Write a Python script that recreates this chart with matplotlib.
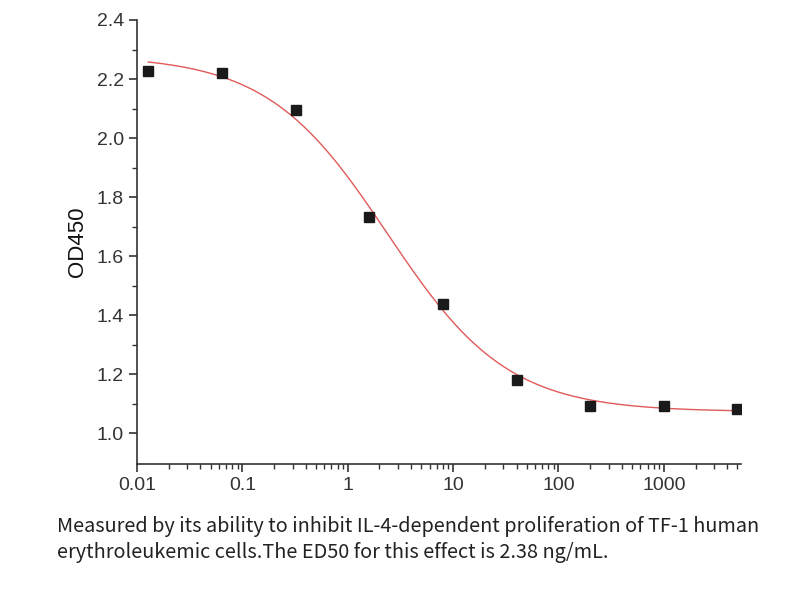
import numpy as np
import matplotlib
matplotlib.use("Agg")
import matplotlib.pyplot as plt
from matplotlib.ticker import LogLocator, FixedLocator, NullFormatter

# concentration (ng/mL) and measured OD450
conc = [0.0128, 0.064, 0.32, 1.6, 8, 40, 200, 1000, 5000]
od450 = [2.227, 2.221, 2.095, 1.732, 1.437, 1.180, 1.090, 1.090, 1.083]

# four-parameter logistic fit parameters
fit_top = 2.28
fit_bottom = 1.072
fit_ed50 = 2.38
fit_hill = 0.76

caption = ("Measured by its ability to inhibit IL-4-dependent proliferation of TF-1 human\n"
           "erythroleukemic cells.The ED50 for this effect is 2.38 ng/mL.")

fig = plt.figure(figsize=(8.04, 6.0), dpi=100)
ax = fig.add_axes([137 / 804, 1 - 464 / 600, (741 - 137) / 804, (464 - 20) / 600])

xs = np.logspace(np.log10(conc[0]), np.log10(conc[-1]), 300)
fit_curve = fit_bottom + (fit_top - fit_bottom) / (1 + (xs / fit_ed50) ** fit_hill)
ax.plot(xs, fit_curve, color="#e05a5a", lw=1.0, zorder=3)
ax.plot(conc, od450, ls="none", marker="s", ms=7.5, color="#1a1a1a", zorder=4)

ax.set_xscale("log")
ax.set_xlim(0.01, 5400)
ax.set_ylim(0.895, 2.4)

for s in ["top", "right"]:
    ax.spines[s].set_visible(False)
for s in ["left", "bottom"]:
    ax.spines[s].set_color("#333333")
    ax.spines[s].set_linewidth(1.2)

ax.xaxis.set_major_locator(FixedLocator([0.01, 0.1, 1, 10, 100, 1000]))
ax.set_xticklabels(["0.01", "0.1", "1", "10", "100", "1000"])
ax.xaxis.set_minor_locator(LogLocator(base=10, subs=np.arange(2, 10), numticks=20))
ax.xaxis.set_minor_formatter(NullFormatter())
ax.set_yticks([1.0, 1.2, 1.4, 1.6, 1.8, 2.0, 2.2, 2.4])
ax.set_yticks(np.arange(1.1, 2.4, 0.2), minor=True)

ax.tick_params(which="major", length=6, width=1.2, color="#333333",
               labelsize=14, labelcolor="#333333")
ax.tick_params(which="minor", length=3.5, width=1.0, color="#333333")
for lab in ax.get_xticklabels() + ax.get_yticklabels():
    lab.set_family("Liberation Sans")

ax.set_ylabel("OD450", fontsize=16, family="Liberation Sans", color="#111111", labelpad=6)

fig.text(57 / 804, 1 - 516 / 600, caption, fontsize=14.3, color="#222222",
         family=["Noto Sans CJK SC", "DejaVu Sans"], ha="left", va="top", linespacing=1.3)

fig.savefig("out.png", dpi=100)
